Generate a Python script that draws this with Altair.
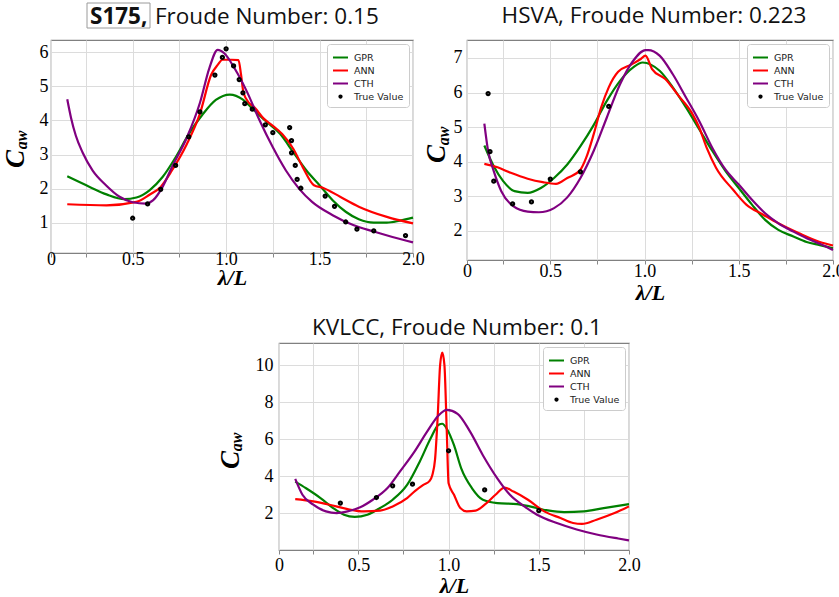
import altair as alt
import pandas as pd

# ---------------- data ----------------
SERIES = ["GPR", "ANN", "CTH", "True Value"]
COLORS = ["#008000", "#ff0000", "#800080", "#000000"]
DOT = "M -0.15 0 A 0.15 0.15 0 1 1 0.15 0 A 0.15 0.15 0 1 1 -0.15 0 Z"
SHAPES = ["stroke", "stroke", "stroke", DOT]

# S175, Fn = 0.15
A_true_x = [0.50, 0.58, 0.65, 0.73, 0.80, 0.86, 0.94, 0.98, 1.00, 1.04, 1.07, 1.09, 1.10, 1.14,
            1.21, 1.25, 1.34, 1.35, 1.35, 1.37, 1.38, 1.40, 1.53, 1.58, 1.64, 1.70, 1.79, 1.96]
A_true_y = [1.13, 1.55, 1.98, 2.68, 3.52, 4.25, 5.33, 5.85, 6.10, 5.60, 5.20, 4.81, 4.49, 4.33,
            3.87, 3.64, 3.79, 3.41, 3.05, 2.68, 2.27, 2.01, 1.78, 1.48, 1.02, 0.81, 0.76, 0.62]
A_gpr_x = [0.15, 0.27, 0.36, 0.455, 0.52, 0.59, 0.66, 0.73, 0.80, 0.875, 0.945, 1.02, 1.09, 1.14,
           1.21, 1.29, 1.36, 1.43, 1.50, 1.57, 1.64, 1.71, 1.79, 1.86, 1.93, 2.0]
A_gpr_y = [2.36, 2.05, 1.83, 1.69, 1.74, 1.95, 2.34, 2.92, 3.60, 4.18, 4.60, 4.76, 4.61, 4.35,
           3.99, 3.60, 3.06, 2.53, 2.10, 1.66, 1.32, 1.10, 1.00, 1.00, 1.06, 1.15]
A_ann_x = [0.15, 0.36, 0.52, 0.59, 0.65, 0.71, 0.79, 0.86, 0.92, 0.955, 0.98, 1.03, 1.066, 1.08,
           1.093, 1.125, 1.15, 1.20, 1.25, 1.30, 1.36, 1.41, 1.47, 1.52, 1.61, 1.71, 1.86, 2.0]
A_ann_y = [1.54, 1.51, 1.61, 1.82, 2.05, 2.53, 3.31, 4.20, 5.34, 5.63, 5.78, 5.78, 5.77, 5.34,
           4.81, 4.50, 4.39, 4.06, 3.84, 3.60, 3.16, 2.63, 2.10, 2.02, 1.76, 1.47, 1.17, 0.98]
A_cth_x = [0.15, 0.17, 0.196, 0.232, 0.286, 0.357, 0.43, 0.50, 0.57, 0.61, 0.66, 0.71, 0.79, 0.86,
           0.91, 0.955, 0.99, 1.045, 1.11, 1.18, 1.25, 1.32, 1.39, 1.46, 1.57, 1.68, 1.79, 1.89, 2.0]
A_cth_y = [4.62, 4.08, 3.55, 3.06, 2.53, 2.10, 1.76, 1.60, 1.56, 1.66, 2.05, 2.63, 3.50, 4.52,
           5.53, 6.07, 5.97, 5.53, 4.86, 3.99, 3.21, 2.53, 2.00, 1.61, 1.22, 0.93, 0.74, 0.58, 0.42]

# HSVA, Fn = 0.223
B_true_x = [0.17, 0.18, 0.20, 0.30, 0.40, 0.50, 0.66, 0.81]
B_true_y = [5.97, 4.29, 3.44, 2.78, 2.84, 3.50, 3.71, 5.60]
B_gpr_x = [0.15, 0.20, 0.25, 0.31, 0.38, 0.45, 0.52, 0.59, 0.66, 0.73, 0.80, 0.87, 0.94, 0.99,
           1.08, 1.15, 1.22, 1.29, 1.36, 1.43, 1.50, 1.57, 1.64, 1.71, 1.79, 1.86, 1.93, 2.0]
B_gpr_y = [4.47, 3.87, 3.44, 3.15, 3.10, 3.24, 3.53, 3.92, 4.45, 5.06, 5.76, 6.34, 6.73, 6.87,
           6.63, 6.15, 5.57, 4.94, 4.31, 3.73, 3.24, 2.76, 2.32, 2.03, 1.84, 1.68, 1.59, 1.50]
B_ann_x = [0.15, 0.22, 0.29, 0.38, 0.46, 0.53, 0.59, 0.66, 0.69, 0.73, 0.77, 0.81, 0.86, 0.93,
           0.98, 1.005, 1.04, 1.11, 1.18, 1.25, 1.29, 1.33, 1.38, 1.47, 1.54, 1.63, 1.71, 1.82,
           1.93, 2.0]
B_ann_y = [3.94, 3.84, 3.68, 3.51, 3.41, 3.36, 3.53, 3.77, 4.11, 4.79, 5.57, 6.15, 6.60, 6.81,
           6.97, 7.07, 6.68, 6.39, 5.91, 5.42, 4.99, 4.40, 3.82, 3.19, 2.76, 2.47, 2.22, 1.93,
           1.68, 1.58]
B_cth_x = [0.15, 0.17, 0.20, 0.24, 0.305, 0.38, 0.44, 0.52, 0.59, 0.66, 0.73, 0.80, 0.87, 0.94,
           1.005, 1.02, 1.08, 1.15, 1.22, 1.29, 1.36, 1.43, 1.50, 1.57, 1.64, 1.71, 1.79, 1.86,
           1.93, 2.0]
B_cth_y = [5.10, 4.31, 3.73, 3.15, 2.71, 2.56, 2.54, 2.66, 2.97, 3.53, 4.31, 5.28, 6.24, 6.92,
           7.23, 7.23, 7.07, 6.53, 5.86, 5.18, 4.40, 3.77, 3.34, 2.90, 2.51, 2.22, 1.98, 1.79,
           1.63, 1.45]

# KVLCC, Fn = 0.1
C_true_x = [0.40, 0.60, 0.69, 0.80, 1.00, 1.20, 1.50]
C_true_y = [2.54, 2.84, 3.47, 3.56, 5.37, 3.25, 2.13]
C_gpr_x = [0.15, 0.21, 0.29, 0.36, 0.42, 0.48, 0.55, 0.62, 0.69, 0.77, 0.84, 0.90, 0.945, 0.965,
           0.99, 1.03, 1.07, 1.13, 1.19, 1.27, 1.38, 1.45, 1.55, 1.64, 1.75, 1.86, 2.0]
C_gpr_y = [3.70, 3.34, 2.81, 2.27, 1.91, 1.79, 1.91, 2.27, 2.72, 3.52, 4.78, 6.03, 6.78, 6.83,
           6.56, 5.67, 4.42, 3.34, 2.72, 2.54, 2.48, 2.36, 2.14, 2.05, 2.09, 2.27, 2.48]
C_ann_x = [0.15, 0.25, 0.34, 0.44, 0.53, 0.62, 0.69, 0.77, 0.815, 0.86, 0.895, 0.91, 0.925, 0.94,
           0.953, 0.965, 0.977, 0.99, 1.0, 1.03, 1.065, 1.10, 1.15, 1.20, 1.26, 1.31, 1.36, 1.44,
           1.53, 1.62, 1.69, 1.74, 1.82, 1.92, 2.0]
C_ann_y = [2.75, 2.63, 2.45, 2.21, 2.09, 2.13, 2.36, 2.81, 3.20, 3.52, 3.74, 4.06, 4.90, 7.30,
           10.0, 10.68, 10.0, 6.40, 3.61, 2.99, 2.27, 2.09, 2.13, 2.45, 2.99, 3.38, 3.16, 2.72,
           2.09, 1.73, 1.46, 1.41, 1.64, 2.00, 2.36]
C_cth_x = [0.15, 0.19, 0.25, 0.32, 0.38, 0.44, 0.51, 0.58, 0.66, 0.73, 0.81, 0.88, 0.944, 0.99,
           1.05, 1.12, 1.19, 1.27, 1.34, 1.42, 1.49, 1.60, 1.71, 1.82, 1.94, 2.0]
C_cth_y = [3.85, 2.99, 2.45, 2.09, 2.00, 2.09, 2.31, 2.72, 3.34, 4.24, 5.31, 6.39, 7.28, 7.58,
           7.37, 6.39, 5.13, 3.88, 2.99, 2.36, 1.91, 1.46, 1.11, 0.84, 0.62, 0.52]

X_TICKS = [0.25, 0.5, 0.75, 1.0, 1.25, 1.5, 1.75, 2.0]

SERIF = "Liberation Serif"
SANS = "Open Sans"
TITLE_SIZE = 22.5


def df_of(name, xs, ys):
    return pd.DataFrame({"series": name, "x": xs, "y": ys, "o": list(range(len(xs)))})


def legend():
    return alt.Legend(title=None, orient="top-right", offset=4, padding=5,
                      fillColor="white", strokeColor="#cccccc", cornerRadius=3,
                      labelFont="DejaVu Sans", labelFontSize=9.5, labelColor="#222222",
                      symbolStrokeWidth=2, symbolSize=225, rowPadding=0, labelOffset=5)


def text_layer(txt, x, y, **kw):
    return (alt.Chart(pd.DataFrame({"t": [txt]})).mark_text(**kw)
            .encode(text="t:N", x=alt.value(x), y=alt.value(y)))


def panel(gx, gy, ax_, ay, cx, cy, tx, ty, xdom, ydom, yvals,
          xlabpad, xtitley, ylabpad, c_pos, aw_pos):
    xaxis = alt.Axis(values=[xdom[0]] + X_TICKS,
                     labelExpr="datum.value < 0.1 ? '0' : (abs(datum.value*2 - round(datum.value*2)) < 0.01 ? format(datum.value, '.1f') : '')",
                     grid=True, gridColor="#dcdcdc", gridWidth=1, domain=False,
                     tickSize=4, tickColor="#888888", labelFont=SERIF, labelFontSize=18,
                     labelColor="black", labelPadding=xlabpad, labelFlush=False,
                     labelOverlap=False, title="λ/L", titleFont=SERIF, titleFontSize=22,
                     titleFontStyle="italic", titleFontWeight="bold", titleColor="black",
                     titleBaseline="middle", titleY=xtitley)
    yaxis = alt.Axis(values=yvals, format="d", grid=True, gridColor="#dcdcdc", gridWidth=1,
                     domain=False, tickSize=0, labelFont=SERIF, labelFontSize=18,
                     labelColor="black", labelPadding=ylabpad, title=None)
    X = alt.X("x:Q", scale=alt.Scale(domain=xdom, nice=False, zero=False), axis=xaxis)
    Y = alt.Y("y:Q", scale=alt.Scale(domain=ydom, nice=False, zero=False), axis=yaxis)
    col = alt.Color("series:N", scale=alt.Scale(domain=SERIES, range=COLORS), legend=legend())
    shp = alt.Shape("series:N", scale=alt.Scale(domain=SERIES, range=SHAPES), legend=legend())

    layers = []
    for name, xs, ys in [("GPR", gx, gy), ("ANN", ax_, ay), ("CTH", cx, cy)]:
        layers.append(alt.Chart(df_of(name, xs, ys))
                      .mark_line(strokeWidth=2.2, interpolate="monotone")
                      .encode(x=X, y=Y, color=col, order="o:Q"))
    layers.append(alt.Chart(df_of("True Value", tx, ty))
                  .mark_point(filled=False, size=225, strokeWidth=3, opacity=1)
                  .encode(x=X, y=Y, color=col, shape=shp))
    layers.append(text_layer("C", c_pos[0], c_pos[1], font=SERIF, fontSize=27, fontStyle="italic",
                             fontWeight="bold", angle=270, align="center", baseline="alphabetic",
                             color="black"))
    layers.append(text_layer("aw", aw_pos[0], aw_pos[1], font=SERIF, fontSize=16, fontStyle="italic",
                             fontWeight="bold", angle=270, align="center", baseline="alphabetic",
                             color="black"))
    return layers


# ---- panel A ----
la = panel(A_gpr_x, A_gpr_y, A_ann_x, A_ann_y, A_cth_x, A_cth_y, A_true_x, A_true_y,
           [0.063, 2.0], [0.11, 6.36], [1, 2, 3, 4, 5, 6],
           -7, 24, 3, (-27, 119), (-24, 100))
la.append(alt.Chart(pd.DataFrame({"b": [1]})).mark_rect(fillOpacity=0, stroke="#9a9a9a", strokeWidth=1)
          .encode(x=alt.value(36), x2=alt.value(99), y=alt.value(-37), y2=alt.value(-12)))
la.append(text_layer("S175,", 39, -16, font=SANS, fontSize=TITLE_SIZE, fontWeight="bold",
                     align="left", baseline="alphabetic", color="#111111"))
la.append(text_layer("Froude Number: 0.15", 104, -16, font=SANS, fontSize=TITLE_SIZE,
                     align="left", baseline="alphabetic", color="#111111"))
chartA = alt.layer(*la).properties(width=362, height=213)

# ---- panel B ----
lb = panel(B_gpr_x, B_gpr_y, B_ann_x, B_ann_y, B_cth_x, B_cth_y, B_true_x, B_true_y,
           [0.058, 2.0], [1.16, 7.52], [2, 3, 4, 5, 6, 7],
           -2, 32, 5, (-22, 114), (-18, 96))
lb.append(text_layer("HSVA, Froude Number: 0.223", 187, -17, font=SANS, fontSize=TITLE_SIZE,
                     align="center", baseline="alphabetic", color="#111111"))
chartB = alt.layer(*lb).properties(width=366, height=220)

# ---- panel C ----
lc = panel(C_gpr_x, C_gpr_y, C_ann_x, C_ann_y, C_cth_x, C_cth_y, C_true_x, C_true_y,
           [0.06, 2.0], [0.0, 11.2], [2, 4, 6, 8, 10],
           2, 35, 6, (-40, 117), (-37, 99))
lc.append(text_layer("KVLCC, Froude Number: 0.1", 178, -8, font=SANS, fontSize=TITLE_SIZE,
                     align="center", baseline="alphabetic", color="#111111"))
chartC = alt.layer(*lc).properties(width=350, height=207)

spacer = alt.Chart(pd.DataFrame({"s": [0]})).mark_point(opacity=0).encode(
    x=alt.value(0), y=alt.value(0)).properties(
    width=174, height=10, view=alt.ViewBackground(strokeOpacity=0, strokeWidth=0))

top = alt.hconcat(chartA, chartB, spacing=54, bounds="flush").resolve_scale(
    color="independent", shape="independent")
bottom = alt.hconcat(spacer, chartC, spacing=54, bounds="flush").resolve_scale(
    color="independent", shape="independent")

chart = alt.vconcat(top, bottom, spacing=12).resolve_scale(
    color="independent", shape="independent"
).properties(
    autosize=alt.AutoSizeParams(type="none"),
    padding={"left": 51, "top": 40, "right": 788, "bottom": 557},
    background="white",
).configure_view(
    stroke="#808080", strokeWidth=1.2
)

chart.save("out.html", embed_options={"renderer": "svg", "actions": False})
